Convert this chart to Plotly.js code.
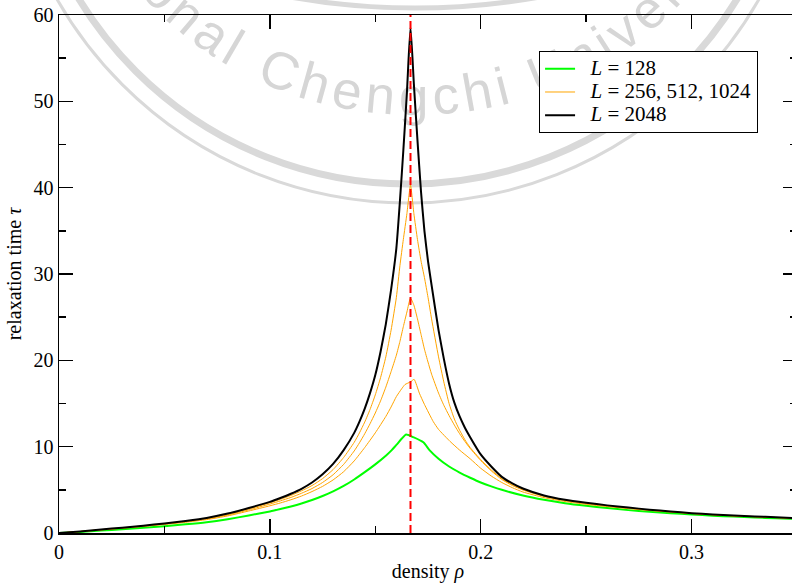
<!DOCTYPE html>
<html><head><meta charset="utf-8">
<script src="https://cdn.plot.ly/plotly-3.0.1.min.js"></script>
<style>
html,body{margin:0;padding:0;background:#fff;overflow:hidden;width:792px;height:583px;}
#wm{position:absolute;left:0;top:0;}
#plot{position:absolute;left:0;top:0;width:800px;height:583px;}
</style></head><body>
<svg id="wm" width="792" height="583" xmlns="http://www.w3.org/2000/svg">
  <defs><path id="arc" d="M 67 -201 A 348 316 0 0 0 763 -201"/></defs>
  <g fill="none" stroke="#d9d9d9">
    <circle cx="408" cy="-201" r="385" stroke-width="7"/>
    <circle cx="408" cy="-201" r="404" stroke-width="3"/>
    <circle cx="415" cy="-700" r="708" stroke-width="5"/>
  </g>
  <text font-family="Liberation Sans" font-size="53" fill="#d6d6d6" letter-spacing="5.5"><textPath href="#arc" startOffset="357">Chengchi University</textPath></text>
  <text font-family="Liberation Sans" font-size="53" fill="#d6d6d6" letter-spacing="5.5" text-anchor="end"><textPath href="#arc" startOffset="333">National</textPath></text>
</svg>
<div id="plot"></div>
<script>
const rho2048 = [0,0.01,0.02,0.03,0.04,0.05,0.06,0.07,0.08,0.09,0.1,0.105,0.11,0.115,0.12,0.125,0.13,0.135,0.14,0.1425,0.145,0.1475,0.15,0.1525,0.155,0.1575,0.16,0.1617,0.1633,0.165,0.1667,0.1683,0.17,0.1717,0.1733,0.175,0.1767,0.18,0.1825,0.185,0.1875,0.19,0.1925,0.195,0.2,0.205,0.21,0.215,0.22,0.23,0.24,0.25,0.26,0.27,0.28,0.29,0.3,0.31,0.32,0.33,0.34,0.35];
const tau2048 = [0,0.18,0.4,0.62,0.85,1.1,1.4,1.75,2.25,2.9,3.6,4.05,4.55,5.12,5.85,6.8,8.0,9.6,11.6,12.9,14.4,16.2,18.3,21.0,24.2,28.2,33.0,38.5,44.3,51.0,58.6,52.0,45.5,39.5,35.0,31.5,28.7,23.5,20.2,17.3,15.1,13.5,12.2,11.1,9.1,7.7,6.5,5.75,5.15,4.35,3.85,3.5,3.2,2.95,2.7,2.5,2.3,2.15,2.02,1.92,1.82,1.72];
const rho1024 = rho2048;
const tau1024 = [0,0.18,0.39,0.6,0.83,1.07,1.36,1.7,2.15,2.8,3.5,3.9,4.35,4.88,5.5,6.3,7.35,8.75,10.5,11.6,12.85,14.3,16.0,18.0,20.4,23.5,27.3,31.0,34.0,37.0,40.3,37.0,34.0,31.5,29.6,27.3,24.8,20.4,17.5,15.0,13.2,11.9,10.8,9.9,8.5,7.3,6.3,5.6,5.05,4.3,3.8,3.45,3.15,2.9,2.67,2.47,2.28,2.13,2.0,1.9,1.8,1.7];
const rho512 = rho2048;
const tau512 = [0,0.17,0.38,0.58,0.8,1.04,1.31,1.63,2.08,2.68,3.35,3.72,4.12,4.6,5.15,5.85,6.75,7.95,9.5,10.45,11.5,12.65,13.9,15.3,16.9,18.7,20.6,22.2,23.9,25.6,27.2,26.4,24.8,23.0,21.3,19.8,18.4,16.2,14.8,13.6,12.5,11.5,10.6,9.8,8.4,7.2,6.2,5.5,4.98,4.24,3.77,3.42,3.13,2.88,2.65,2.45,2.27,2.12,1.99,1.89,1.79,1.69];
const rho256 = [0,0.01,0.02,0.03,0.04,0.05,0.06,0.07,0.08,0.09,0.1,0.105,0.11,0.115,0.12,0.125,0.13,0.135,0.14,0.145,0.15,0.155,0.1575,0.16,0.1625,0.1641,0.1667,0.1684,0.1709,0.1733,0.1775,0.18,0.1855,0.19,0.195,0.2,0.205,0.21,0.215,0.22,0.23,0.24,0.25,0.26,0.27,0.28,0.29,0.3,0.31,0.32,0.33,0.34,0.35];
const tau256 = [0,0.17,0.36,0.55,0.76,0.99,1.24,1.55,1.98,2.55,3.15,3.48,3.85,4.28,4.8,5.4,6.15,7.1,8.35,9.9,11.6,13.5,14.6,15.8,16.7,17.2,17.5,17.8,16.2,14.9,12.9,12.0,10.6,9.6,8.6,7.5,6.6,5.85,5.25,4.75,4.1,3.65,3.32,3.06,2.83,2.61,2.43,2.26,2.11,1.98,1.88,1.78,1.68];
const rho128 = [0,0.01,0.02,0.03,0.04,0.05,0.06,0.07,0.08,0.09,0.1,0.105,0.11,0.115,0.12,0.125,0.13,0.135,0.14,0.145,0.15,0.155,0.1578,0.16,0.1646,0.168,0.1728,0.1757,0.18,0.185,0.19,0.195,0.2,0.205,0.21,0.22,0.23,0.24,0.25,0.26,0.27,0.28,0.29,0.3,0.31,0.32,0.33,0.34,0.35];
const tau128 = [0,0.13,0.28,0.43,0.6,0.79,1.0,1.25,1.6,2.03,2.5,2.78,3.08,3.42,3.82,4.28,4.82,5.45,6.2,7.05,7.95,8.95,9.6,10.2,11.4,11.1,10.5,9.6,8.6,7.7,7.0,6.4,5.85,5.4,5.0,4.35,3.85,3.45,3.15,2.9,2.65,2.45,2.3,2.15,2.0,1.9,1.8,1.7,1.62];
const critRho = [0.1667, 0.1667];
const critTau = [0, 60];
const names = ['<i>L</i> = 128', '<i>L</i> = 256, 512, 1024', '<i>L</i> = 2048'];

const label = s => '<span style="font-size:21px">\u00a0\u00a0' + s + '</span>';
const orange = '#ffa500';
const sm = {shape:'spline', smoothing:0.5};
const traces = [
  {x: rho128, y: tau128, mode:'lines', name: label(names[0]), line:Object.assign({color:'#00ff00', width:2}, sm)},
  {x: rho256, y: tau256, mode:'lines', name: label(names[1]), line:Object.assign({color:orange, width:1}, sm)},
  {x: rho512, y: tau512, mode:'lines', name: label(names[1]), line:Object.assign({color:orange, width:1}, sm), showlegend:false},
  {x: rho1024, y: tau1024, mode:'lines', name: label(names[1]), line:Object.assign({color:orange, width:1}, sm), showlegend:false},
  {x: rho2048, y: tau2048, mode:'lines', name: label(names[2]), line:Object.assign({color:'#000000', width:2}, sm)},
  {x: critRho, y: critTau, mode:'lines', showlegend:false, line:{color:'#ff0000', width:2, dash:'8px,4px'}}
];
const axisCommon = {
  ticks:'inside', ticklen:14, tickwidth:1.5, tickcolor:'#000',
  showline:true, linewidth:1.5, linecolor:'#000', mirror:'ticks',
  showgrid:false, zeroline:false, tickfont:{size:20, color:'#000'}
};
const layout = {
  width:800, height:583,
  margin:{l:59, r:3, t:15, b:50},
  paper_bgcolor:'rgba(0,0,0,0)', plot_bgcolor:'rgba(0,0,0,0)',
  font:{family:'Liberation Serif', size:20, color:'#000'},
  showlegend:true,
  xaxis: Object.assign({}, axisCommon, {
    range:[0,0.35], tick0:0, dtick:0.1,
    minor:{dtick:0.05, ticks:'inside', ticklen:7, tickwidth:1.5, tickcolor:'#000', showgrid:false},
    title:{text:'density <i>ρ</i>', font:{size:20}, standoff:2}
  }),
  yaxis: Object.assign({}, axisCommon, {
    range:[0,60], tick0:0, dtick:10,
    minor:{dtick:5, ticks:'inside', ticklen:7, tickwidth:1.5, tickcolor:'#000', showgrid:false},
    title:{text:'relaxation time <i>τ</i>', font:{size:20}, standoff:6}
  }),
  legend:{x:0.6505, y:0.930, xanchor:'left', yanchor:'top', bgcolor:'#ffffff', bordercolor:'#000', borderwidth:1, font:{size:15.5}, tracegroupgap:0}
};
Plotly.newPlot('plot', traces, layout, {displayModeBar:false, staticPlot:true});
</script>
</body></html>
